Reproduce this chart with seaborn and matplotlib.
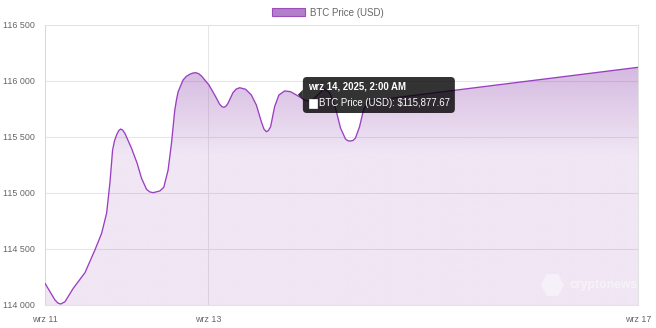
import numpy as np
import pandas as pd
import matplotlib
matplotlib.use("Agg")
import matplotlib.pyplot as plt
import matplotlib.transforms as mtransforms
from matplotlib.patches import FancyBboxPatch, Rectangle, Polygon, Patch
import seaborn as sns

# ---------------- data (hours since wrz 11, 00:00) ----------------
hours = [0.0, 1.47, 2.94, 3.8, 4.62, 5.89, 8.33, 11.78, 14.72, 16.70, 18.17,
         19.14, 19.94, 20.5, 21.11, 21.7, 22.29, 22.9, 23.56, 25.53, 27.18, 28.48, 29.95, 30.9, 31.89,
         33.87, 35.04, 36.31, 37.31, 38.28, 38.8, 39.26, 40.73, 41.7, 42.70, 43.6, 44.47, 45.3, 46.15,
         48.38, 50.06, 51.53, 52.2, 52.80, 53.4, 53.98, 55.45, 56.4, 57.42, 59.19, 60.87, 62.34,
         63.81, 64.6, 65.29, 65.9, 66.55, 67.73, 69.00, 70.68, 72.4, 74.0, 76.5, 78.3,
         80.4, 82.3, 84.0, 85.69, 87.17, 88.64, 89.4, 90.11, 90.9, 91.58, 92.76, 93.94,
         95.41, 174.92]
price = [114194, 114119, 114045, 114018, 114009, 114029, 114149, 114288, 114491, 114640, 114819,
         115087, 115384, 115465, 115518, 115555, 115571, 115562, 115533, 115399, 115265, 115131, 115033, 115010, 115003,
         115018, 115051, 115205, 115444, 115741, 115835, 115904, 116009, 116042, 116060, 116071, 116074, 116066, 116045,
         115964, 115875, 115792, 115771, 115765, 115776, 115801, 115896, 115928, 115940, 115926, 115875, 115786,
         115637, 115570, 115547, 115558, 115592, 115771, 115875, 115911, 115905, 115877.67, 115832, 115815,
         115875, 115930, 115895, 115759, 115580, 115482, 115466, 115464, 115470, 115491, 115589, 115741,
         115821, 116122]

x_tick_hours = [0, 48, 174.92]
x_tick_labels = ["wrz 11", "wrz 13", "wrz 17"]
y_ticks = [114000, 114500, 115000, 115500, 116000, 116500]
series_name = "BTC Price (USD)"
tooltip_title = "wrz 14, 2025, 2:00 AM"
tooltip_hour = 74.0
tooltip_value = 115877.67

LINE = "#9b3fc2"
RGB = np.array([155, 89, 182]) / 255.0

sns.set_theme(style="white")
plt.rcParams['font.family'] = ['Liberation Sans', 'DejaVu Sans']

fig = plt.figure(figsize=(6.56, 3.28), dpi=100)
ax = fig.add_axes([45 / 656, 1 - 305 / 328, 593 / 656, 280 / 328])

df = pd.DataFrame({"hour": hours, "price": price})
sns.lineplot(data=df, x="hour", y="price", ax=ax, color=LINE, linewidth=0.95, zorder=4)

# gradient fill clipped to the area under the curve
fill = ax.fill_between(hours, price, y_ticks[0], color="none", lw=0)
vals = np.linspace(y_ticks[0], y_ticks[-1], 500)
alpha = 0.15 + 0.40 * np.clip((vals - 115339) / 1161.0, 0, 1)
img = np.zeros((len(vals), 1, 4))
img[:, 0, :3] = RGB
img[:, 0, 3] = alpha
im = ax.imshow(img, extent=[hours[0], hours[-1], y_ticks[0], y_ticks[-1]],
               origin="lower", aspect="auto", interpolation="bilinear", zorder=2)
im.set_clip_path(fill.get_paths()[0], transform=ax.transData)

ax.set_xlim(hours[0], hours[-1])
ax.set_ylim(y_ticks[0], y_ticks[-1])
ax.set_xticks(x_tick_hours)
ax.set_xticklabels(x_tick_labels)
ax.set_yticks(y_ticks)
ax.set_yticklabels([f"{v:,}".replace(",", " ") for v in y_ticks])
ax.set_xlabel("")
ax.set_ylabel("")
ax.set_axisbelow(True)
ax.grid(True, color="#e6e6e6", linewidth=0.75)
for s in ["left", "bottom", "top", "right"]:
    ax.spines[s].set_visible(True)
    ax.spines[s].set_color("#e2e2e2")
    ax.spines[s].set_linewidth(0.75)
ax.spines["left"].set_color("#d9d9d9")
ax.tick_params(axis="both", length=5.8, width=0.75, color="#e0e0e0",
               labelsize=6.4, labelcolor="#666666")
ax.tick_params(axis="y", pad=1.5)
ax.tick_params(axis="x", pad=1.5)

# legend
handle = Patch(facecolor="#b27fc9", edgecolor="#9b4dbf", linewidth=0.8, label=series_name)
fig.legend(handles=[handle], loc="center", bbox_to_anchor=(0.5, 1 - 12.5 / 328),
           bbox_transform=fig.transFigure, frameon=False, fontsize=7,
           handlelength=3.4, handleheight=0.95, handletextpad=0.5, borderpad=0,
           labelcolor="#666666")

# watermark
def ax_frac(px, py):
    return ((px - 45) / 593.0, (305 - py) / 280.0)

logo = Polygon([ax_frac(*p) for p in [(541, 285), (547, 274), (558, 274), (564, 285),
                                      (558, 296), (547, 296)]],
               closed=True, transform=ax.transAxes, fc="white", ec="none", alpha=0.45, zorder=3)
ax.add_patch(logo)
ax.text(*ax_frac(570, 285), "cryptonews", transform=ax.transAxes, color="white", alpha=0.5,
        fontsize=8.8, fontweight="bold", va="center", ha="left", clip_on=True, zorder=3)

# tooltip
trans = mtransforms.Affine2D() + mtransforms.ScaledTranslation(tooltip_hour, tooltip_value, ax.transData)
box = FancyBboxPatch((7, -18.3), 152, 36, boxstyle="round,pad=0,rounding_size=4",
                     fc=(0, 0, 0, 0.8), ec="none", transform=trans, zorder=10)
fig.add_artist(box)
caret = Polygon([(2, 0), (7, -5), (7, 5)], closed=True, fc=(0, 0, 0, 0.8), ec="none",
                transform=trans, zorder=10)
fig.add_artist(caret)
sq = Rectangle((12.7, -12.8), 8.6, 8.6, fc="white", ec="white", lw=0.5, transform=trans, zorder=11)
fig.add_artist(sq)
fig.text(11.7, 8.7, tooltip_title, transform=trans, color="white", fontweight="bold",
         fontsize=6.9, va="center", ha="left", zorder=12)
fig.text(22.7, -8.3, f"{series_name}: ${tooltip_value:,.2f}", transform=trans, color="white",
         fontsize=6.9, va="center", ha="left", zorder=12)

fig.savefig("out.png", dpi=100)
